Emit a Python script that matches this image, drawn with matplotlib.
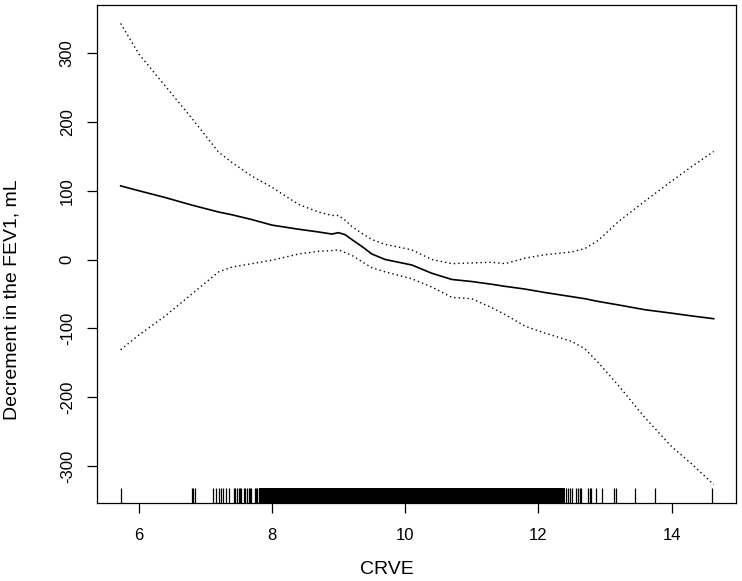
import matplotlib
matplotlib.use("Agg")
import matplotlib.pyplot as plt
import matplotlib.transforms as mtransforms

plt.rcParams['font.family'] = ['Liberation Sans', 'DejaVu Sans']

# ---- data ----
crve = [5.73, 6.0, 6.4, 6.8, 7.2, 7.4, 7.7, 8.0, 8.4, 8.7, 8.9, 9.0, 9.1, 9.2, 9.35,
        9.5, 9.7, 9.9, 10.1, 10.4, 10.7, 11.0, 11.3, 11.5, 11.8, 12.1, 12.5, 12.7,
        12.9, 13.2, 13.6, 14.0, 14.3, 14.63]
fit = [107, 100, 90, 79, 69, 65, 58, 50, 44, 40, 37, 39, 36, 29, 19,
       8, 0, -4, -8, -20, -29, -32, -36, -39, -43, -48, -54, -57,
       -61, -66, -73, -78, -82, -86]
upper = [343, 299, 252, 205, 156, 141, 121, 105, 80, 69, 64, 64, 57, 48, 38,
         29, 22, 18, 14, 0, -6, -5, -4, -6, 2, 7, 11, 16,
         28, 55, 85, 114, 135, 157]
lower = [-131, -110, -82, -50, -18, -11, -6, -1, 8, 12, 13, 14, 10, 6, -3,
         -12, -18, -23, -28, -40, -55, -57, -70, -80, -97, -107, -119, -130,
         -150, -183, -230, -272, -297, -327]

rug_x = [5.73, 6.80, 6.82, 6.85, 7.12, 7.16, 7.20, 7.23, 7.27, 7.31, 7.35, 7.43, 7.45,
         7.47, 7.50, 7.52, 7.54, 7.58, 7.60, 7.62, 7.65, 7.67, 7.69, 7.74, 7.76, 7.77,
         7.81, 7.83, 12.41, 12.44, 12.47, 12.50, 12.57, 12.59, 12.62, 12.64, 12.74,
         12.77, 12.79, 12.87, 12.96, 13.13, 13.16, 13.45, 13.75, 14.61]
rug_x_dense = [7.85, 7.90, 7.95, 8.00, 8.05, 8.10, 8.15, 8.20, 8.25, 8.30, 8.35, 8.40,
               8.45, 8.50, 8.55, 8.60, 8.65, 8.70, 8.75, 8.80, 8.85, 8.90, 8.95, 9.00,
               9.05, 9.10, 9.15, 9.20, 9.25, 9.30, 9.35, 9.40, 9.45, 9.50, 9.55, 9.60,
               9.65, 9.70, 9.75, 9.80, 9.85, 9.90, 9.95, 10.00, 10.05, 10.10, 10.15,
               10.20, 10.25, 10.30, 10.35, 10.40, 10.45, 10.50, 10.55, 10.60, 10.65,
               10.70, 10.75, 10.80, 10.85, 10.90, 10.95, 11.00, 11.05, 11.10, 11.15,
               11.20, 11.25, 11.30, 11.35, 11.40, 11.45, 11.50, 11.55, 11.60, 11.65,
               11.68, 11.73, 11.76, 11.80, 11.84, 11.88, 11.91, 11.94, 11.97, 12.00,
               12.03, 12.06, 12.10, 12.14, 12.17, 12.20, 12.23, 12.26, 12.30, 12.33,
               12.36]

x_ticks = [6, 8, 10, 12, 14]
y_ticks = [-300, -200, -100, 0, 100, 200, 300]
x_label = "CRVE"
y_label = "Decrement in the FEV1, mL"

# ---- figure ----
fig = plt.figure(figsize=(7.42, 5.81), dpi=100)
ax = fig.add_axes([97/742, 78/581, (736-97)/742, (503-5)/581])

ax.plot(crve, fit, color='black', lw=1.2, solid_joinstyle='round')
ax.plot(crve, upper, color='black', lw=1.0, linestyle=(0, (1, 2.2)))
ax.plot(crve, lower, color='black', lw=1.0, linestyle=(0, (1, 2.2)))

trans = mtransforms.blended_transform_factory(ax.transData, ax.transAxes)
ax.vlines(rug_x, 0, 0.03, transform=trans, color='black', lw=0.9)
ax.vlines(rug_x_dense, 0, 0.03, transform=trans, color='black', lw=3.0,
          antialiased=False)

xmin_d, xmax_d = min(rug_x), max(rug_x)
ymin_d, ymax_d = min(lower), max(upper)
xr = xmax_d - xmin_d
yr = ymax_d - ymin_d
ax.set_xlim(xmin_d - 0.04 * xr, xmax_d + 0.04 * xr)
ax.set_ylim(ymin_d - 0.04 * yr, ymax_d + 0.04 * yr)

ax.set_xticks(x_ticks)
ax.set_xticklabels([str(v) for v in x_ticks])
ax.set_yticks(y_ticks)
ax.set_yticklabels([str(v) for v in y_ticks], rotation=90, va='center')

ax.tick_params(axis='both', direction='out', length=7, width=0.9, labelsize=12,
               colors='black')
ax.tick_params(axis='x', pad=11)
ax.tick_params(axis='y', pad=9)
for s in ax.spines.values():
    s.set_color('black')
    s.set_linewidth(0.9)

fig.text(386.5/742, 1 - 569.5/581, x_label, ha='center', va='center', fontsize=14)
fig.text(12/742, 1 - 300/581, y_label, ha='center', va='center', rotation=90,
         fontsize=14)

fig.savefig("out.png", dpi=100)
